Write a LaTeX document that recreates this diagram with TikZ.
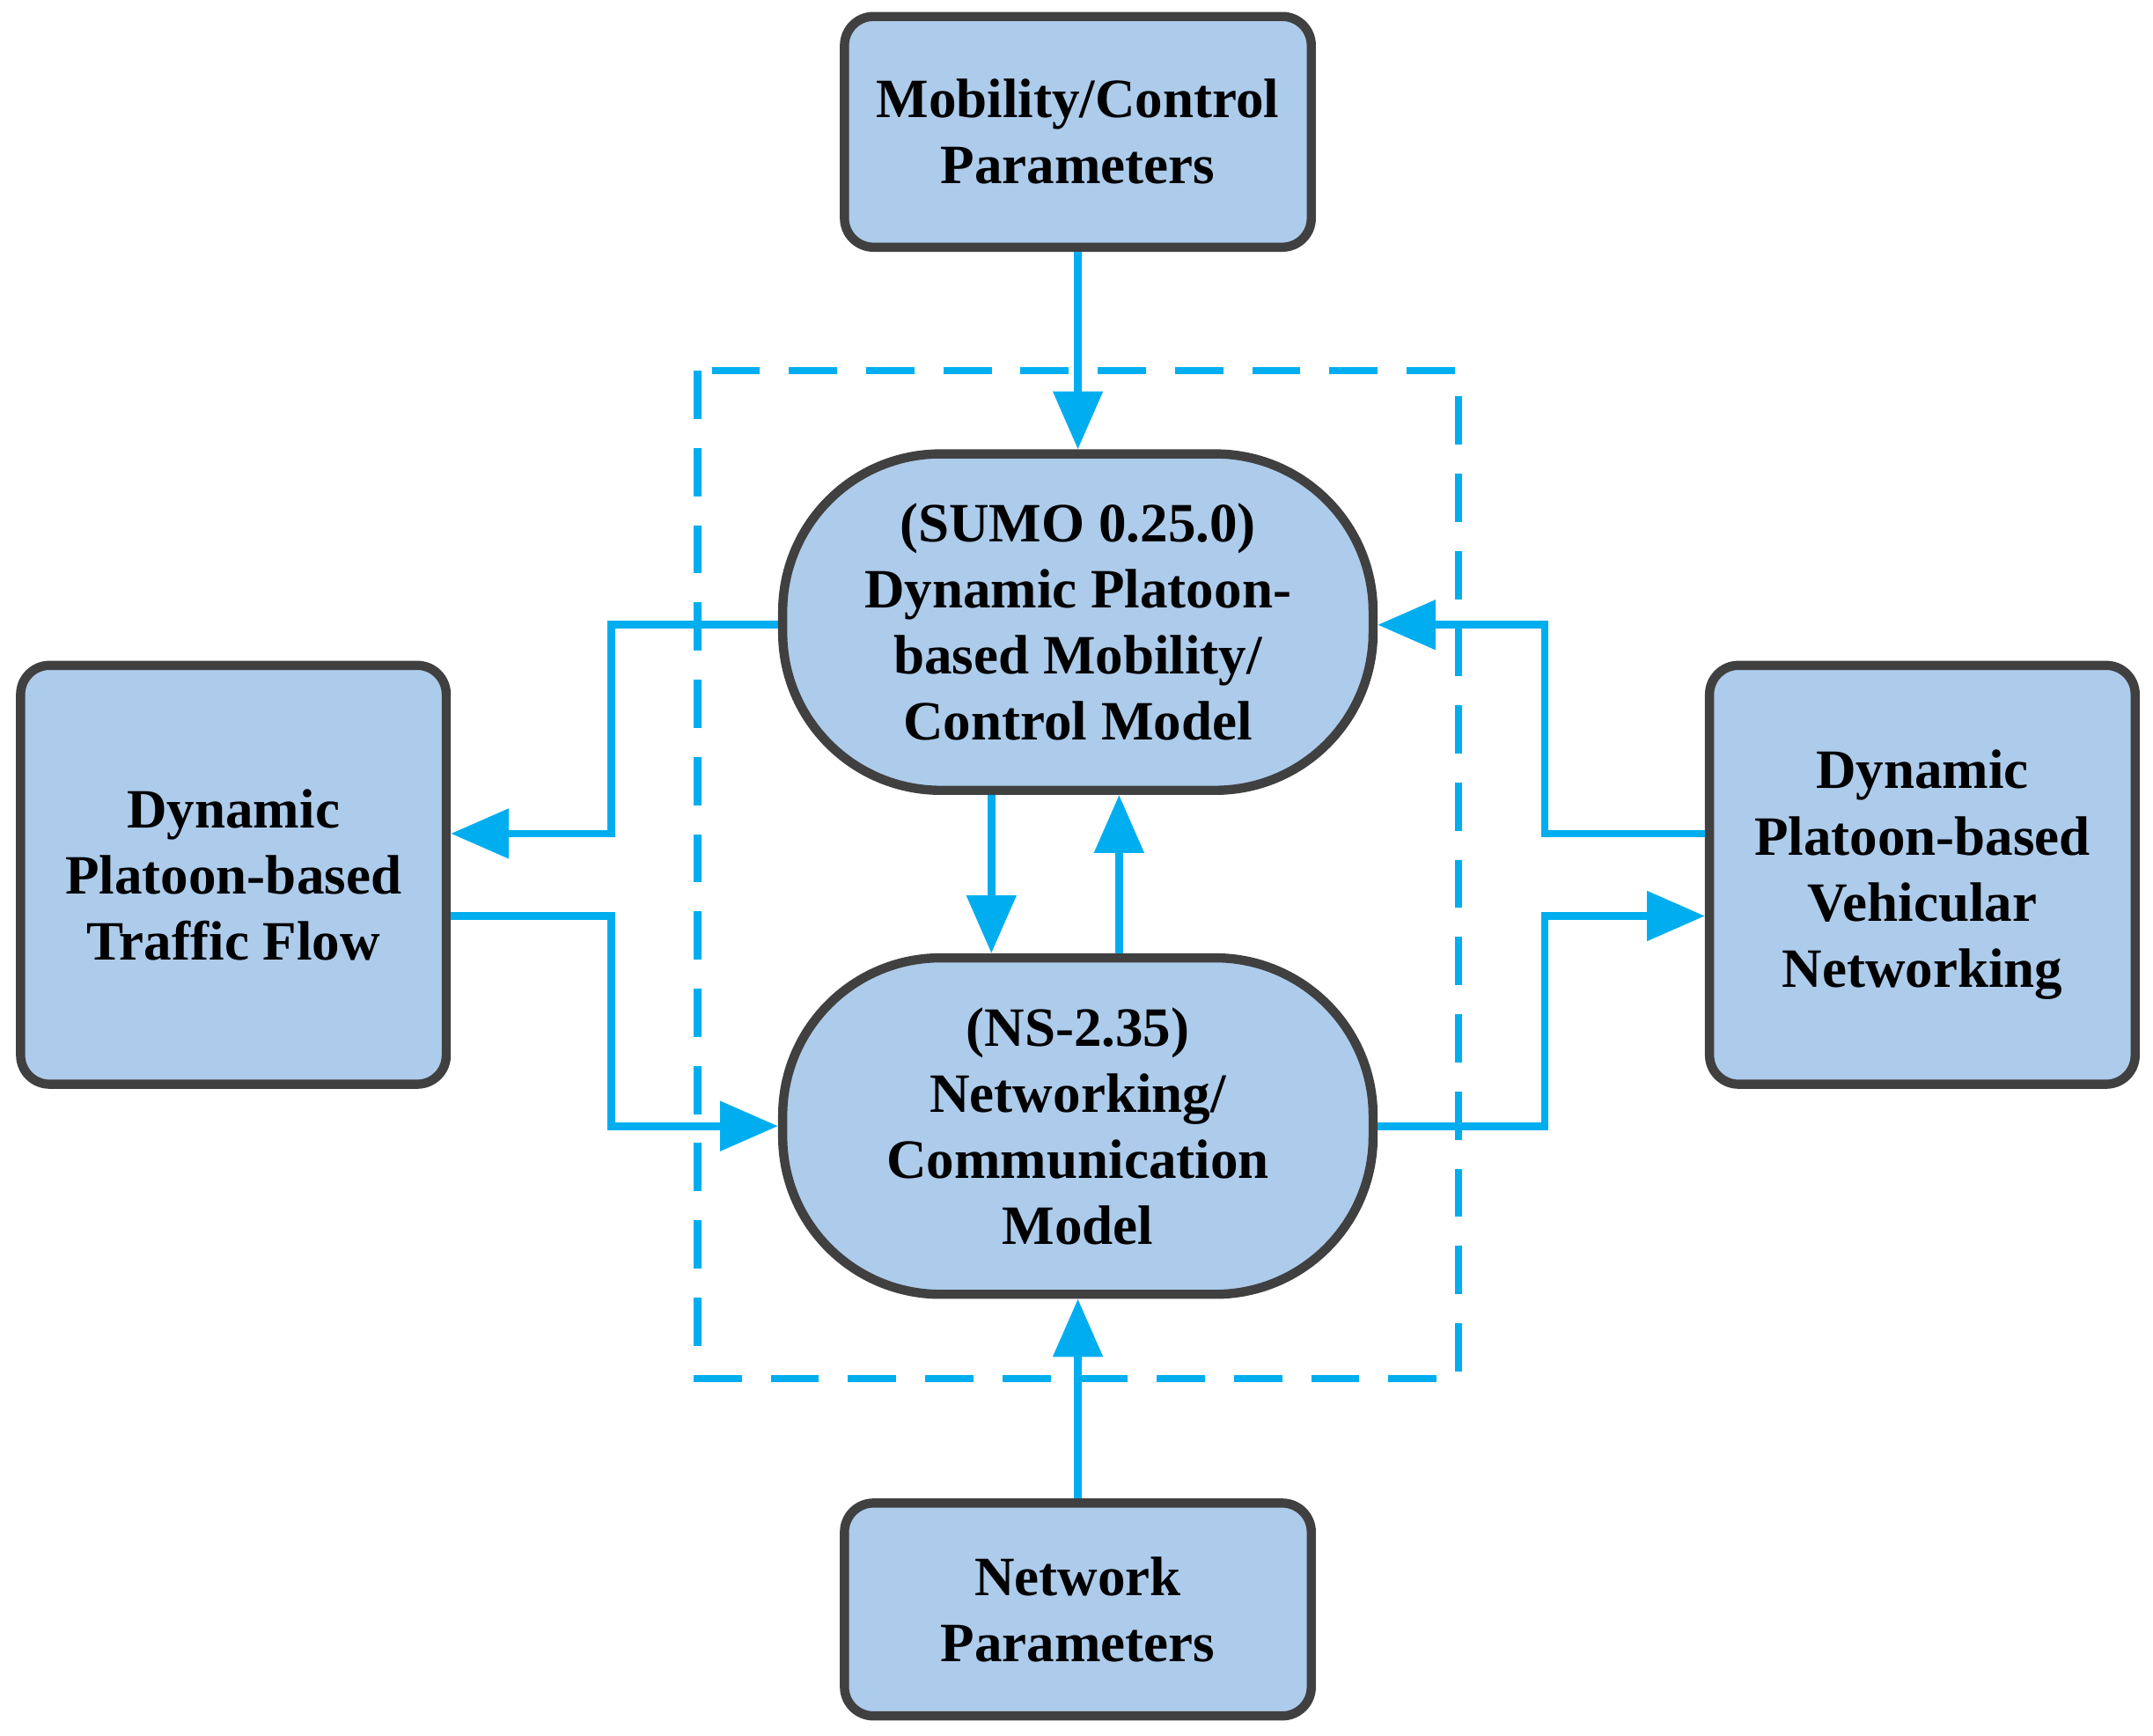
\documentclass[tikz,border=0pt]{standalone}
\usepackage{fontspec}
\setmainfont{Liberation Serif}
\usetikzlibrary{positioning}
\usetikzlibrary{arrows.meta}
\definecolor{boxfill}{HTML}{ADCBEA}
\definecolor{boxline}{HTML}{404040}
\definecolor{flow}{HTML}{00AEEF}
\tikzset{
    param box/.style={shape=rectangle,draw=boxline,fill=boxfill,line width=1.9pt,rounded corners=6pt,
        align=center,font=\bfseries\fontsize{11.5}{13.7}\selectfont},
    model box/.style={param box,rounded corners=1.15cm,minimum width=4.3cm,minimum height=2.45cm},
    flow/.style={draw=flow,line width=1.6pt,-{Triangle[length=12pt,width=10pt]}},
    frame/.style={draw=flow,line width=1.5pt,dash pattern=on 10pt off 6pt}
}
\begin{document}
\begin{tikzpicture}[x=1cm,y=-1cm]
    \useasboundingbox (0,0) rectangle (15.68,12.64);
    \draw[frame] (5.08,2.70) rectangle (10.62,10.04);
    \node(mobpar)[param box,minimum width=3.4cm,minimum height=1.68cm] at (7.85,0.96) {Mobility/Control\\Parameters};
    \node(netpar)[param box,minimum width=3.4cm,minimum height=1.55cm] at (7.85,11.72) {Network\\Parameters};
    \node(traffic)[param box,minimum width=3.1cm,minimum height=3.05cm] at (1.70,6.37) {Dynamic\\Platoon-based\\Traffic Flow};
    \node(vnet)[param box,minimum width=3.1cm,minimum height=3.05cm] at (14.00,6.37) {Dynamic\\Platoon-based\\Vehicular\\Networking};
    \node(sumo)[model box] at (7.85,4.53) {(SUMO 0.25.0)\\Dynamic Platoon-\\based Mobility/\\Control Model};
    \node(ns)[model box] at (7.85,8.20) {(NS-2.35)\\Networking/\\Communication\\Model};
    % arrows
    \draw[flow] (mobpar) -- (sumo);
    \draw[flow] (netpar) -- (ns);
    \draw[flow] (sumo.west |- 0,4.55) -| (4.45,6.07) -- (traffic.east |- 0,6.07);
    \draw[flow] (traffic.east |- 0,6.67) -| (4.45,8.20) -- (ns.west);
    \draw[flow] (vnet.west |- 0,6.07) -| (11.25,4.55) -- (sumo.east |- 0,4.55);
    \draw[flow] (ns.east) -| (11.25,6.67) -- (vnet.west |- 0,6.67);
    \draw[flow] (sumo.south -| 7.22,0) -- (ns.north -| 7.22,0);
    \draw[flow] (ns.north -| 8.15,0) -- (sumo.south -| 8.15,0);
\end{tikzpicture}
\end{document}
